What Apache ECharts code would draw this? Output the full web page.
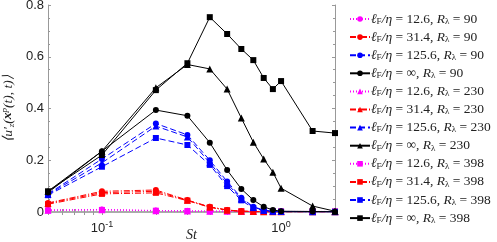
<!DOCTYPE html>
<html><head><meta charset="utf-8">
<script src="https://cdn.jsdelivr.net/npm/echarts@6/dist/echarts.min.js"></script>
<style>html,body{margin:0;padding:0;background:#fff}#c{width:497px;height:242px}</style>
</head><body><div id="c"></div>
<script>
const stValues = [0.05,0.1,0.2,0.3,0.4,0.5,0.6,0.7,0.8,0.9,1.0,1.5,2.0];
const yTicks = [0,0.2,0.4,0.6,0.8];
const xTickLabels = [0.1,1];

const mag90  = [0.008,0.010,0.006,0.004,0.003,0.003,0.002,0.002,0.002,0.002,0.002,0.002,0.002];
const red90  = [0.035,0.080,0.085,0.046,0.020,0.008,0.003,0.002,0.001,0.001,0.001,0.001,0.001];
const blue90 = [0.070,0.205,0.342,0.298,0.200,0.118,0.055,0.020,0.008,0.003,0.002,0.001,0.001];
const blk90  = [0.075,0.235,0.394,0.372,0.268,0.162,0.089,0.046,0.020,0.008,0.003,0.002,0.001];
const mag230  = [0.007,0.009,0.005,0.004,0.003,0.003,0.002,0.002,0.002,0.002,0.002,0.002,0.002];
const red230  = [0.033,0.075,0.080,0.045,0.019,0.007,0.003,0.002,0.001,0.001,0.001,0.001,0.001];
const blue230 = [0.068,0.190,0.332,0.290,0.190,0.110,0.050,0.018,0.007,0.003,0.002,0.001,0.001];
const blk230  = [0.080,0.235,0.480,0.570,0.553,0.475,0.363,0.270,0.205,0.154,0.092,0.023,0.003];
const mag398  = [0.006,0.008,0.005,0.004,0.003,0.003,0.002,0.002,0.002,0.002,0.002,0.002,0.002];
const red398  = [0.030,0.070,0.074,0.044,0.018,0.007,0.003,0.002,0.001,0.001,0.001,0.001,0.001];
const blue398 = [0.065,0.175,0.286,0.259,0.182,0.100,0.045,0.015,0.005,0.002,0.001,0.001,0.001];
const blk398  = [0.080,0.220,0.471,0.575,0.753,0.688,0.630,0.587,0.518,0.475,0.506,0.313,0.305];

const lfLabels = ['12.6','31.4','125.6','∞'];
const reLabels = ['90','230','398'];

const colors = ['#ff00ff','#ff0000','#0000ff','#000000'];
const dashes = [[1,2],[6,2,1,2],[6,3],'solid'];
const symbols = ['circle','triangle','rect'];
const dataSets = [[mag90,red90,blue90,blk90],[mag230,red230,blue230,blk230],[mag398,red398,blue398,blk398]];

const series = [];
const names = [];
for (let r = 0; r < 3; r++) {
  for (let l = 0; l < 4; l++) {
    const name = 'L' + l + 'R' + r;
    names.push(name);
    series.push({
      name: name, type: 'line',
      data: stValues.map((x,i) => [x, dataSets[r][l][i]]),
      symbol: symbols[r], symbolSize: r===1?7:6,
      lineStyle: {color: colors[l], width: 1, type: dashes[l]},
      itemStyle: {color: colors[l], borderWidth: 0},
      z: 2 + l
    });
  }
}

const allTicks = [0.05,0.06,0.07,0.08,0.09,0.1,0.2,0.3,0.4,0.5,0.6,0.7,0.8,0.9,1,2];
const axisGrey = '#999';
const serif = 'Liberation Serif';

const chart = echarts.init(document.getElementById('c'));
chart.setOption({
  animation: false,
  grid: {left: 48, right: 162, top: 5, bottom: 30, outerBoundsMode: 'none', containLabel: false},
  legend: {
    orient: 'vertical', left: 344, top: 7, itemWidth: 20, itemHeight: 7, itemGap: 4.1,
    data: names,
    formatter: function(n){
      const l = +n[1], r = +n[3];
      return '{i|ℓ}{s|F}{i|/η}{n| = ' + lfLabels[l] + ', }{i|R}{s|λ}{n| = ' + reLabels[r] + '}';
    },
    textStyle: {
      fontFamily: serif, fontSize: 13, color: '#222', lineHeight: 14, padding: [0,0,0,-4],
      rich: {
        i: {fontFamily: serif, fontStyle: 'italic', fontSize: 13.5, lineHeight: 14},
        n: {fontFamily: serif, fontSize: 13.5, lineHeight: 14},
        s: {fontFamily: serif, fontSize: 9, lineHeight: 14, verticalAlign: 'bottom', padding: [4,0,0,0]}
      }
    }
  },
  xAxis: [{
    type: 'log', min: 0.05, max: 2, position: 'bottom',
    name: 'St', nameLocation: 'middle', nameGap: 16, nameMoveOverlap: false,
    nameTextStyle: {fontFamily: serif, fontStyle: 'italic', fontSize: 14, color: '#222', verticalAlign: 'top'},
    axisLine: {lineStyle: {color: axisGrey, width: 1}},
    axisTick: {inside: true, length: 3, customValues: allTicks, lineStyle: {color: axisGrey}},
    axisLabel: {customValues: xTickLabels, margin: 8,
      formatter: v => v < 0.5 ? '{b|10}{p|-1}' : '{b|10}{p|0}',
      rich: {b: {fontFamily: 'Liberation Sans', fontSize: 13, color: '#222'},
             p: {fontFamily: 'Liberation Sans', fontSize: 9, color: '#222', verticalAlign: 'top', padding: [0,0,8,0]}}},
    splitLine: {show: false}
  },{
    type: 'log', min: 0.05, max: 2, position: 'top',
    axisLine: {lineStyle: {color: '#aaa', width: 2}},
    axisTick: {inside: true, length: 3, customValues: allTicks, lineStyle: {color: axisGrey}},
    axisLabel: {show: false}, splitLine: {show: false}
  }],
  yAxis: [{
    type: 'value', min: 0, max: 0.8, interval: 0.2,
    name: '{a|⟨u′}{s|z}{a|(}{b|x}{p|p}{a|(t), t)⟩}', nameLocation: 'middle', nameGap: 32, nameRotate: 90,
    nameMoveOverlap: false,
    nameTextStyle: {rich: {
      a: {fontFamily: serif, fontStyle: 'italic', fontSize: 13.5, color: '#222', lineHeight: 16},
      b: {fontFamily: serif, fontStyle: 'italic', fontWeight: 'bold', fontSize: 13.5, color: '#222', lineHeight: 16},
      s: {fontFamily: serif, fontStyle: 'italic', fontSize: 9, color: '#222', verticalAlign: 'bottom', lineHeight: 16, padding: [5,0,0,0]},
      p: {fontFamily: serif, fontStyle: 'italic', fontSize: 9, color: '#222', verticalAlign: 'top', lineHeight: 16, padding: [0,0,5,0]}
    }},
    axisLine: {show: true, lineStyle: {color: axisGrey}},
    axisTick: {inside: true, length: 3, lineStyle: {color: axisGrey}},
    minorTick: {show: true, splitNumber: 4, length: 2, lineStyle: {color: axisGrey}},
    axisLabel: {fontFamily: 'Liberation Sans', fontSize: 13, color: '#222', margin: 4,
      formatter: v => v === 0 ? '0' : v.toFixed(1)},
    splitLine: {show: false}
  },{
    type: 'value', min: 0, max: 0.8, interval: 0.2, position: 'right',
    axisLine: {show: true, lineStyle: {color: axisGrey}},
    axisTick: {inside: true, length: 3, lineStyle: {color: axisGrey}},
    minorTick: {show: true, splitNumber: 4, length: 2, lineStyle: {color: axisGrey}},
    axisLabel: {show: false}, splitLine: {show: false}
  }],
  series: series
});
</script></body></html>
